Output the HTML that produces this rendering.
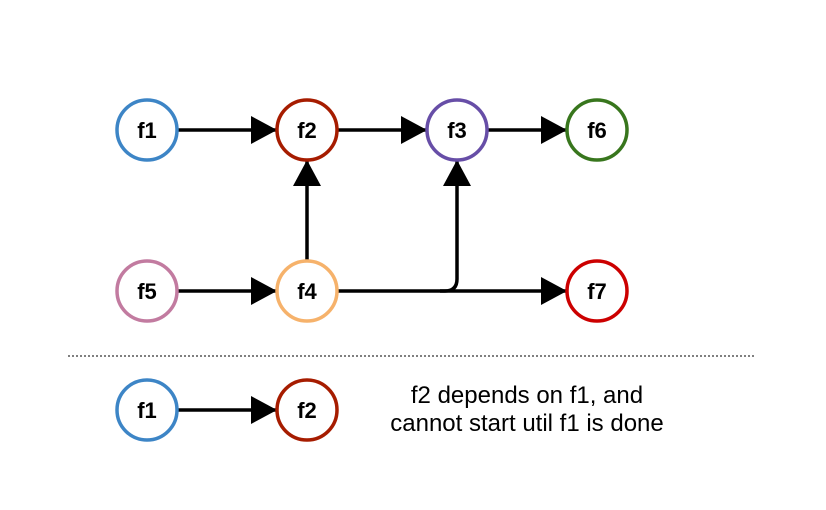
<!DOCTYPE html>
<html><head><meta charset="utf-8"><style>
html,body{margin:0;padding:0;background:#fff;}
svg{display:block;}
text{font-family:"Liberation Sans",sans-serif;}
</style></head><body>
<svg width="826" height="510" viewBox="0 0 826 510">
<defs>
<marker id="ah" markerWidth="26" markerHeight="28" refX="25" refY="14" orient="auto" markerUnits="userSpaceOnUse">
<path d="M0,0 L26,14 L0,28 Z" fill="#000"/>
</marker>
</defs>
<g stroke="#000" stroke-width="3.5" fill="none">
<line x1="178" y1="130" x2="276" y2="130" marker-end="url(#ah)"/>
<line x1="338" y1="130" x2="426" y2="130" marker-end="url(#ah)"/>
<line x1="488" y1="130" x2="566" y2="130" marker-end="url(#ah)"/>
<line x1="178" y1="291" x2="276" y2="291" marker-end="url(#ah)"/>
<line x1="307" y1="260" x2="307" y2="161" marker-end="url(#ah)"/>
<path d="M338,291 L445,291 Q457,291 457,279 L457,161" marker-end="url(#ah)"/>
<line x1="440" y1="291" x2="566" y2="291" marker-end="url(#ah)"/>
<line x1="178" y1="410" x2="276" y2="410" marker-end="url(#ah)"/>
</g>
<line x1="68" y1="356" x2="756" y2="356" stroke="#000" stroke-width="1" stroke-dasharray="2,2"/>
<g stroke-width="3.5" fill="#fff" font-weight="bold" font-size="22" text-anchor="middle">
<g><circle cx="147" cy="130" r="30" stroke="#3d85c6"/><text x="147" y="138" fill="#000" stroke="none">f1</text></g>
<g><circle cx="307" cy="130" r="30" stroke="#a61c00"/><text x="307" y="138" fill="#000" stroke="none">f2</text></g>
<g><circle cx="457" cy="130" r="30" stroke="#674ea7"/><text x="457" y="138" fill="#000" stroke="none">f3</text></g>
<g><circle cx="597" cy="130" r="30" stroke="#38761d"/><text x="597" y="138" fill="#000" stroke="none">f6</text></g>
<g><circle cx="147" cy="291" r="30" stroke="#c27ba0"/><text x="147" y="299" fill="#000" stroke="none">f5</text></g>
<g><circle cx="307" cy="291" r="30" stroke="#f6b26b"/><text x="307" y="299" fill="#000" stroke="none">f4</text></g>
<g><circle cx="597" cy="291" r="30" stroke="#cc0000"/><text x="597" y="299" fill="#000" stroke="none">f7</text></g>
<g><circle cx="147" cy="410" r="30" stroke="#3d85c6"/><text x="147" y="418" fill="#000" stroke="none">f1</text></g>
<g><circle cx="307" cy="410" r="30" stroke="#a61c00"/><text x="307" y="418" fill="#000" stroke="none">f2</text></g>
</g>
<text x="527" y="403" font-size="24" text-anchor="middle" fill="#000">f2 depends on f1, and</text>
<text x="527" y="431" font-size="24" text-anchor="middle" fill="#000">cannot start util f1 is done</text>
</svg>
</body></html>
